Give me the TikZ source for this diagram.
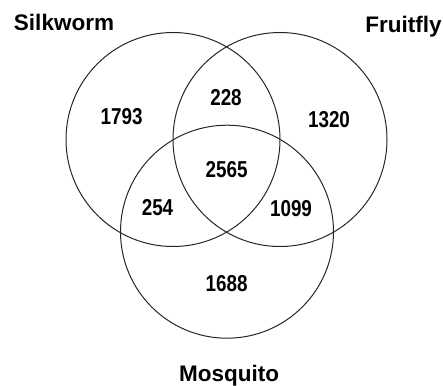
\documentclass[tikz,border=0pt]{standalone}
\usepackage{fontspec}
\setmainfont{Liberation Sans}
\newfontfamily\numfont{Liberation Sans}[FakeStretch=0.82]
\begin{document}
\begin{tikzpicture}[x=1pt,y=-1pt,
  ring/.style={draw=black!85,line width=1pt},
  setlabel/.style={anchor=base,inner sep=0pt,font=\fontsize{22.5}{26}\selectfont\bfseries},
  count/.style={anchor=center,inner sep=0pt,font=\fontsize{23}{26}\selectfont\numfont\bfseries}]
\useasboundingbox (0,0) rectangle (443,385);
\draw[ring] (173,139.5) circle[radius=107];
\draw[ring] (280,139.5) circle[radius=107];
\draw[ring] (227,231.7) circle[radius=106.5];
\node[setlabel] (silk) at (64,31) {Silkworm};
\node[setlabel] (fruit) at (403.5,33) {Fruitfly};
\node[setlabel] (mosq) at (229,381.5) {Mosquito};
\node[count] (a) at (121.7,117) {1793};
\node[count] (b) at (226,98) {228};
\node[count] (c) at (329,120) {1320};
\node[count] (d) at (226.7,170) {2565};
\node[count] (e) at (157.5,208) {254};
\node[count] (f) at (291,209) {1099};
\node[count] (g) at (226.7,284) {1688};
\end{tikzpicture}
\end{document}
